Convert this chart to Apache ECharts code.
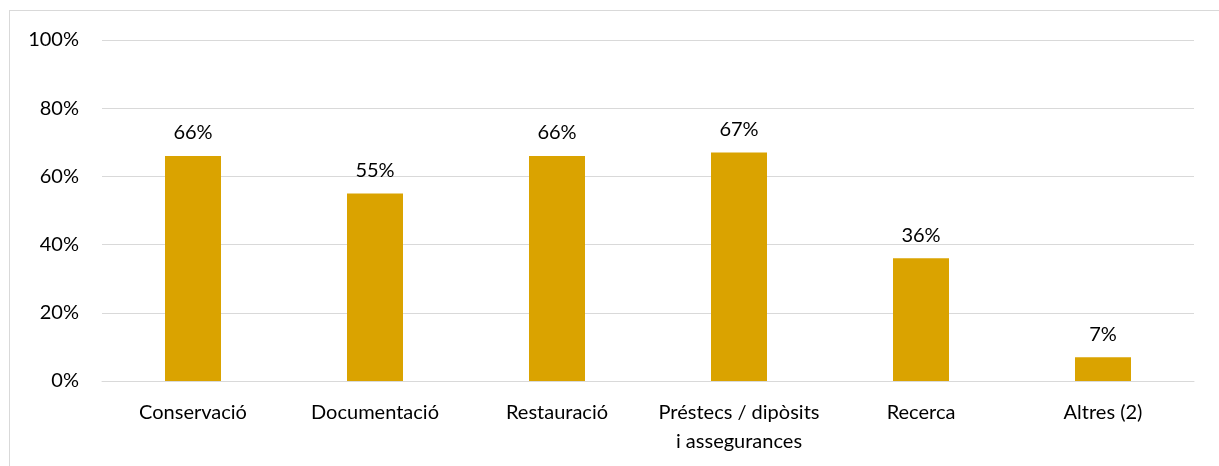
<!DOCTYPE html>
<html><head><meta charset="utf-8">
<script src="https://cdn.jsdelivr.net/npm/echarts@6/dist/echarts.min.js"></script>
<style>
html,body{margin:0;padding:0;background:#fff;}
#frame{position:absolute;left:9px;top:10px;width:1220px;height:470px;border:1px solid #d9d9d9;box-sizing:border-box;}
#chart{position:absolute;left:0;top:0;width:1219px;height:466px;}
</style></head>
<body>
<div id="frame"></div>
<div id="chart"></div>
<script>
const categories = ["Conservació", "Documentació", "Restauració", "Préstecs / dipòsits\ni assegurances", "Recerca", "Altres (2)"];
const values = [66, 55, 66, 67, 36, 7];
const yTicks = [0, 20, 40, 60, 80, 100];

const font = "Lato, 'Open Sans', sans-serif";
const chart = echarts.init(document.getElementById('chart'), null, {renderer:'canvas'});
chart.setOption({
  animation:false,
  grid:{left:102, right:25, top:40, bottom:85, containLabel:false},
  xAxis:{type:'category', data:categories,
    axisLine:{lineStyle:{color:'#d9d9d9', width:1}},
    axisTick:{show:false},
    axisLabel:{color:'#000', fontSize:20, fontFamily:font, margin:17, lineHeight:29, interval:0}
  },
  yAxis:{type:'value', min:yTicks[0], max:yTicks[yTicks.length-1], interval:20,
    axisLine:{show:false}, axisTick:{show:false},
    splitLine:{lineStyle:{color:'#d9d9d9', width:1}},
    axisLabel:{color:'#000', fontSize:20, fontFamily:font, margin:23, formatter:'{value}%'}
  },
  series:[{type:'bar', data:values, barWidth:56,
    itemStyle:{color:'#DAA300'},
    label:{show:true, position:'top', distance:13, color:'#000', fontSize:20, fontFamily:font, formatter:'{c}%'}
  }]
});
</script>
</body></html>
